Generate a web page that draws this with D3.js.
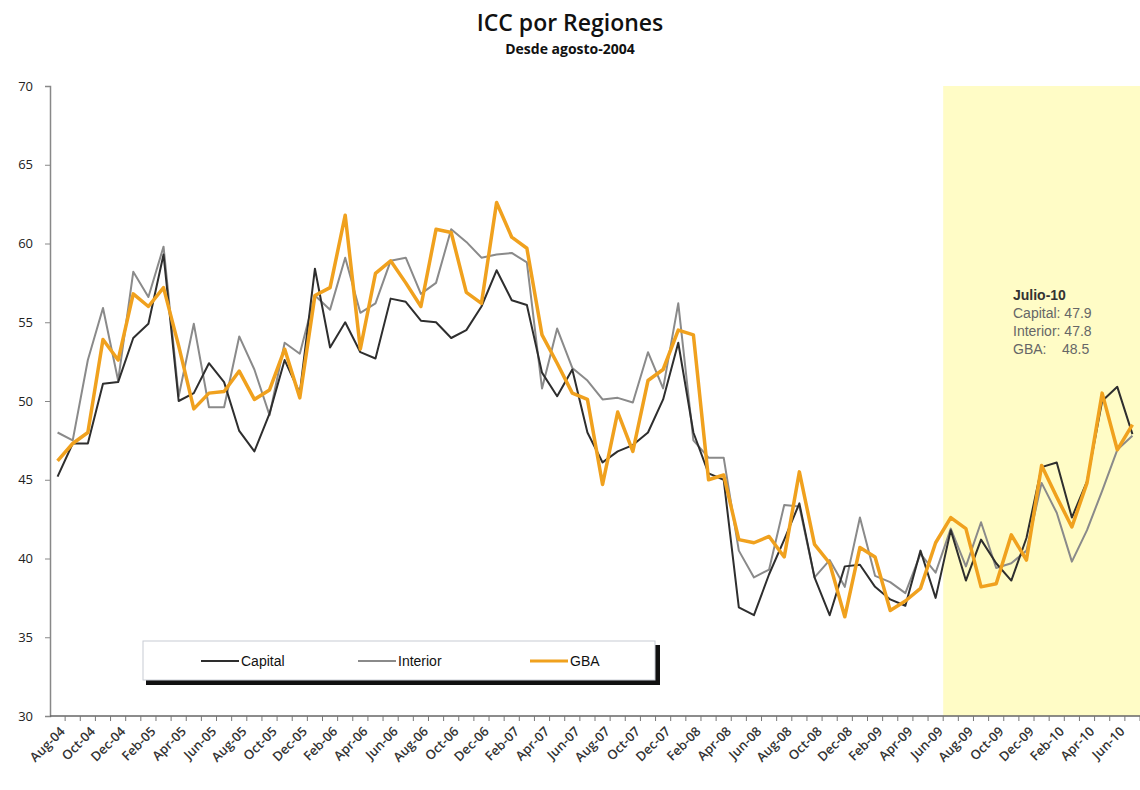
<!DOCTYPE html>
<html>
<head>
<meta charset="utf-8">
<script src="https://cdn.jsdelivr.net/npm/d3@7"></script>
<style>
  body { margin: 0; background: #fff; }
  svg { display: block; }
</style>
</head>
<body>
<script>
// Monthly categories Aug-04 .. Jul-10
const monthNames = ["Jan", "Feb", "Mar", "Apr", "May", "Jun", "Jul", "Aug", "Sep", "Oct", "Nov", "Dec"];
const months = [];
for (let y = 2004, m = 7; months.length < 72; m++) {
    if (m === 12) { m = 0; y++; }
    months.push(monthNames[m] + "-" + String(y).slice(2));
}

const capital = [45.2, 47.3, 47.3, 51.1, 51.2, 54.0, 54.9, 59.3, 50.0, 50.5, 52.4, 51.2,
    48.1, 46.8, 49.2, 52.6, 50.5, 58.4, 53.4, 55.0, 53.1, 52.7, 56.5, 56.3,
    55.1, 55.0, 54.0, 54.5, 56.0, 58.3, 56.4, 56.1, 51.8, 50.3, 52.0, 48.0,
    46.1, 46.8, 47.2, 48.0, 50.1, 53.7, 48.0, 45.4, 45.0, 36.9, 36.4, 39.0,
    41.2, 43.5, 38.8, 36.4, 39.5, 39.6, 38.2, 37.4, 37.0, 40.5, 37.5, 41.8,
    38.6, 41.2, 39.7, 38.6, 41.3, 45.8, 46.1, 42.6, 44.9, 50.0, 50.9, 47.9];

const interior = [48.0, 47.5, 52.6, 55.9, 51.3, 58.2, 56.6, 59.8, 50.3, 54.9, 49.6, 49.6,
    54.1, 52.0, 49.1, 53.7, 53.0, 56.7, 55.8, 59.1, 55.6, 56.2, 58.9, 59.1,
    56.8, 57.5, 60.9, 60.1, 59.1, 59.3, 59.4, 58.8, 50.8, 54.6, 52.1, 51.3,
    50.1, 50.2, 49.9, 53.1, 50.8, 56.2, 47.5, 46.4, 46.4, 40.5, 38.8, 39.3,
    43.4, 43.3, 38.8, 39.9, 38.2, 42.6, 38.9, 38.5, 37.8, 40.3, 39.1, 41.9,
    39.5, 42.3, 39.4, 39.7, 40.5, 44.8, 42.9, 39.8, 41.8, 44.3, 46.9, 47.8];

const gba = [46.2, 47.3, 48.0, 53.9, 52.6, 56.8, 56.0, 57.2, 53.5, 49.5, 50.5, 50.6,
    51.9, 50.1, 50.7, 53.3, 50.2, 56.7, 57.2, 61.8, 53.3, 58.1, 58.9, 57.5,
    56.0, 60.9, 60.7, 56.9, 56.2, 62.6, 60.4, 59.7, 54.2, 52.4, 50.5, 50.1,
    44.7, 49.3, 46.8, 51.3, 52.0, 54.5, 54.2, 45.0, 45.3, 41.2, 41.0, 41.4,
    40.1, 45.5, 40.9, 39.7, 36.3, 40.7, 40.1, 36.7, 37.3, 38.1, 41.0, 42.6,
    41.9, 38.2, 38.4, 41.5, 39.9, 45.9, 43.9, 42.0, 44.8, 50.5, 46.9, 48.5];

const yTicks = [30, 35, 40, 45, 50, 55, 60, 65, 70];
const highlightFrom = "Jul-09";
const noteLines = ["Capital: 47.9", "Interior: 47.8", "GBA:    48.5"];

const series = [
    { name: "Interior", values: interior, color: "#8a8a8a", width: 2 },
    { name: "Capital", values: capital, color: "#2e2e2e", width: 2 },
    { name: "GBA", values: gba, color: "#f0a11e", width: 3.5 }
];

const width = 1140, height = 790;
const margin = { top: 86, right: 0, bottom: 74, left: 50 };

const svg = d3.select("body").append("svg")
    .attr("width", width)
    .attr("height", height);

const x = d3.scaleBand()
    .domain(months)
    .range([margin.left, width - margin.right]);

const y = d3.scaleLinear()
    .domain([30, 70])
    .range([height - margin.bottom, margin.top]);

// Highlighted last year
svg.append("rect")
    .attr("x", x(highlightFrom))
    .attr("y", y(70))
    .attr("width", width - margin.right - x(highlightFrom))
    .attr("height", y(30) - y(70))
    .attr("fill", "#fffcc6");

// Titles
svg.append("text")
    .attr("x", 570).attr("y", 31)
    .attr("text-anchor", "middle")
    .style("font-family", "'Open Sans', sans-serif")
    .style("font-size", "23px")
    .style("font-weight", 600)
    .style("fill", "#111")
    .text("ICC por Regiones");

svg.append("text")
    .attr("x", 570).attr("y", 54)
    .attr("text-anchor", "middle")
    .style("font-family", "'Open Sans', sans-serif")
    .style("font-size", "14px")
    .style("font-weight", 700)
    .style("fill", "#111")
    .text("Desde agosto-2004");

// Y axis
const yAxis = svg.append("g")
    .attr("transform", `translate(${margin.left},0)`)
    .call(d3.axisLeft(y).tickValues(yTicks).tickSize(5).tickPadding(12));
yAxis.select(".domain").attr("stroke", "#888").attr("stroke-width", 1.5);
yAxis.selectAll(".tick line").attr("stroke", "#888");
yAxis.selectAll("text")
    .style("font-family", "'Open Sans', sans-serif")
    .style("font-size", "13px")
    .style("fill", "#222");

// X axis: ticks between categories, labels every second month
const xg = svg.append("g")
    .attr("transform", `translate(0,${y(30)})`);
xg.append("line")
    .attr("x1", margin.left).attr("x2", width - margin.right)
    .attr("stroke", "#666").attr("stroke-width", 1.5);
xg.selectAll("line.tk")
    .data(months)
    .join("line")
    .attr("class", "tk")
    .attr("x1", d => x(d) + x.bandwidth())
    .attr("x2", d => x(d) + x.bandwidth())
    .attr("y1", 0).attr("y2", 5)
    .attr("stroke", "#777");
xg.selectAll("text")
    .data(months.filter((d, i) => i % 2 === 0))
    .join("text")
    .attr("transform", d => `translate(${x(d) + x.bandwidth() / 2 + 5},${13}) rotate(-45)`)
    .attr("text-anchor", "end")
    .attr("dy", "0.35em")
    .style("font-family", "'Open Sans', sans-serif")
    .style("font-size", "13px")
    .style("font-weight", 600)
    .style("fill", "#333")
    .text(d => d);

// Lines
const line = d3.line()
    .x((d, i) => x(months[i]) + x.bandwidth() / 2)
    .y(d => y(d));

svg.append("g")
    .selectAll("path")
    .data(series)
    .join("path")
    .attr("fill", "none")
    .attr("stroke", d => d.color)
    .attr("stroke-width", d => d.width)
    .attr("stroke-linejoin", "round")
    .attr("d", d => line(d.values));

// Annotation
const note = svg.append("g")
    .attr("transform", "translate(1013,300)")
    .style("font-family", "'Liberation Sans', Arial, sans-serif")
    .style("font-size", "14px");
note.append("text")
    .style("font-weight", 700)
    .style("fill", "#333")
    .text("Julio-10");
note.selectAll("text.v")
    .data(noteLines)
    .join("text")
    .attr("class", "v")
    .attr("y", (d, i) => 18 * (i + 1))
    .style("fill", "#666")
    .style("white-space", "pre")
    .attr("xml:space", "preserve")
    .text(d => d);

// Legend
const legend = svg.append("g").attr("transform", "translate(143,641)");
legend.append("rect")
    .attr("x", 3).attr("y", 4)
    .attr("width", 514).attr("height", 40)
    .attr("fill", "#111");
legend.append("rect")
    .attr("width", 512).attr("height", 39)
    .attr("fill", "#fff")
    .attr("stroke", "#c8ccd4");

const legendItems = [series[1], series[0], series[2]];
const legendX = [58, 215, 387];
legendItems.forEach((s, i) => {
    const g = legend.append("g").attr("transform", `translate(${legendX[i]},20)`);
    g.append("line")
        .attr("x1", 0).attr("x2", 38)
        .attr("stroke", s.color)
        .attr("stroke-width", s.name === "GBA" ? 3 : 2);
    g.append("text")
        .attr("x", 40).attr("dy", "0.35em")
        .style("font-family", "'Liberation Sans', Arial, sans-serif")
        .style("font-size", "14px")
        .style("fill", "#111")
        .text(s.name);
});
</script>
</body>
</html>
